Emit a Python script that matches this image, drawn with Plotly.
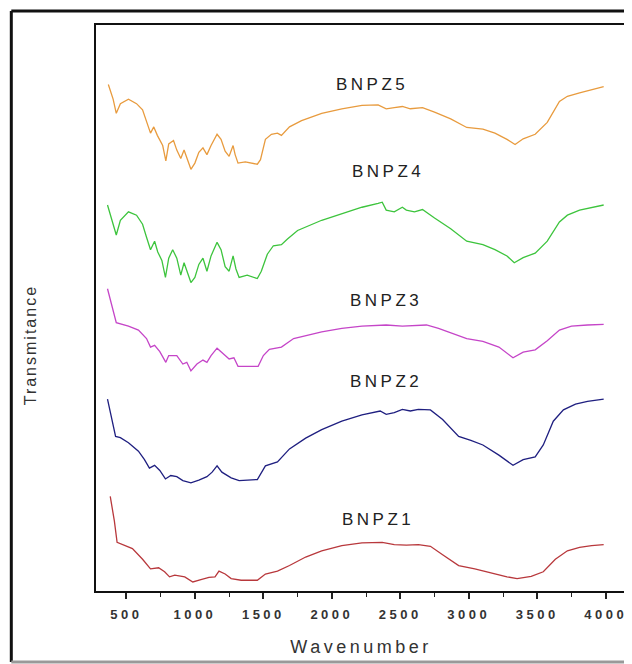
import plotly.graph_objects as go

# ---- data (wavenumber, transmittance in arbitrary offset units) ----
bnpz5_x = [368, 403, 426, 456, 515, 574, 618, 647, 676, 700, 726, 765, 788, 809, 844, 868, 897, 921, 941, 971,
           1000, 1029, 1059, 1088, 1118, 1162, 1191, 1221, 1250, 1279, 1294, 1315, 1368, 1456, 1479, 1515, 1559,
           1603, 1632, 1691, 1779, 1926, 2073, 2220, 2338, 2397, 2456, 2515, 2573, 2662, 2750, 2868, 2985, 3103,
           3191, 3279, 3338, 3397, 3485, 3573, 3662, 3720, 3809, 3897, 3985]
bnpz5_y = [89.5, 86.9, 84.4, 86.1, 86.9, 86.1, 85.0, 82.8, 80.9, 82.0, 80.5, 78.7, 76.0, 79.0, 79.6, 77.9, 76.4,
           77.9, 76.4, 74.5, 75.6, 77.5, 78.3, 77.1, 78.7, 80.7, 79.8, 77.7, 76.8, 78.7, 77.1, 75.6, 75.8, 75.4,
           76.2, 79.8, 80.7, 80.9, 80.5, 82.0, 83.1, 84.4, 85.2, 85.8, 85.9, 85.2, 85.4, 85.6, 85.2, 85.4, 84.6,
           83.4, 81.9, 81.6, 80.9, 79.8, 78.9, 79.9, 80.7, 82.8, 86.5, 87.4, 88.0, 88.6, 89.1]

bnpz4_x = [362, 397, 426, 456, 515, 574, 618, 647, 676, 706, 729, 759, 785, 809, 838, 868, 897, 921, 941, 971,
           1000, 1029, 1059, 1088, 1118, 1162, 1191, 1221, 1250, 1279, 1300, 1323, 1382, 1456, 1485, 1529, 1573,
           1632, 1676, 1750, 1926, 2073, 2220, 2338, 2368, 2397, 2456, 2515, 2544, 2603, 2662, 2750, 2868, 2985,
           3103, 3191, 3279, 3332, 3397, 3485, 3573, 3662, 3720, 3809, 3897, 3985]
bnpz4_y = [68.2, 65.5, 62.9, 65.5, 67.0, 66.4, 64.8, 62.5, 60.3, 61.8, 59.9, 58.4, 55.4, 58.8, 60.3, 58.8, 55.8,
           58.0, 56.5, 54.5, 55.4, 57.7, 58.8, 56.5, 59.2, 61.6, 60.3, 57.3, 56.5, 59.2, 56.9, 55.4, 55.8, 55.2,
           56.5, 59.5, 61.0, 61.2, 62.2, 63.7, 65.5, 66.7, 67.8, 68.5, 68.7, 67.3, 67.0, 67.8, 67.3, 67.0, 67.4,
           65.9, 64.0, 61.8, 61.2, 60.3, 59.2, 58.0, 58.9, 59.7, 61.8, 65.2, 66.4, 67.3, 67.8, 68.2]

bnpz3_x = [362, 397, 426, 515, 588, 647, 676, 706, 744, 788, 809, 868, 912, 941, 971, 1015, 1059, 1088, 1118,
           1162, 1206, 1250, 1285, 1315, 1397, 1462, 1500, 1544, 1632, 1721, 1926, 2073, 2220, 2397, 2515, 2691,
           2779, 2897, 2985, 3103, 3220, 3323, 3397, 3485, 3573, 3662, 3750, 3867, 3985]
bnpz3_y = [53.4, 49.8, 47.4, 46.8, 46.1, 44.6, 43.1, 43.4, 42.3, 40.4, 41.6, 41.6, 40.1, 40.4, 38.9, 40.1, 40.8,
           40.4, 41.6, 42.9, 41.9, 41.0, 41.2, 39.7, 39.7, 39.7, 41.6, 42.7, 43.1, 44.6, 45.8, 46.4, 46.8, 47.0,
           46.8, 47.0, 46.4, 45.3, 44.6, 44.1, 43.1, 41.2, 42.2, 42.6, 44.2, 46.1, 46.8, 47.0, 47.1]

bnpz2_x = [362, 397, 421, 456, 515, 588, 632, 668, 706, 744, 785, 824, 868, 912, 971, 1029, 1088, 1126, 1162,
           1197, 1265, 1323, 1456, 1515, 1603, 1691, 1809, 1926, 2073, 2220, 2353, 2397, 2456, 2515, 2573, 2632,
           2720, 2809, 2926, 3015, 3103, 3220, 3323, 3397, 3485, 3544, 3617, 3691, 3779, 3867, 3985]
bnpz2_y = [33.9, 30.3, 27.3, 27.1, 26.2, 24.7, 23.2, 21.7, 22.2, 21.3, 19.8, 20.4, 20.2, 19.5, 19.1, 19.6, 20.2,
           21.0, 22.1, 21.0, 20.0, 19.5, 19.7, 22.1, 22.8, 25.1, 27.0, 28.5, 30.0, 31.1, 31.8, 31.2, 31.5, 32.1,
           31.8, 32.1, 32.0, 30.3, 27.3, 26.6, 25.8, 24.0, 22.2, 23.2, 23.7, 25.8, 30.0, 32.0, 33.0, 33.5, 33.9]

bnpz1_x = [382, 412, 432, 485, 544, 618, 676, 735, 779, 815, 853, 926, 985, 1044, 1103, 1147, 1176, 1221, 1265,
           1338, 1456, 1515, 1603, 1691, 1809, 1926, 2073, 2220, 2368, 2456, 2544, 2632, 2720, 2809, 2926, 3044,
           3162, 3279, 3353, 3456, 3544, 3632, 3720, 3809, 3897, 3985]
bnpz1_y = [16.7, 12.4, 8.6, 8.1, 7.5, 5.6, 3.9, 4.1, 3.4, 2.5, 2.8, 2.5, 1.6, 2.0, 2.4, 2.5, 3.5, 3.0, 2.2, 1.9,
           1.9, 3.0, 3.5, 4.5, 6.0, 7.1, 8.0, 8.5, 8.6, 8.2, 8.1, 8.2, 7.9, 6.4, 4.5, 3.9, 3.2, 2.5, 2.2, 2.6,
           3.4, 5.6, 7.1, 7.7, 8.0, 8.2]

series_names = ["BNPZ5", "BNPZ4", "BNPZ3", "BNPZ2", "BNPZ1"]
series_x = [bnpz5_x, bnpz4_x, bnpz3_x, bnpz2_x, bnpz1_x]
series_y = [bnpz5_y, bnpz4_y, bnpz3_y, bnpz2_y, bnpz1_y]
series_colors = ["#E89B3E", "#3DC43D", "#C545C8", "#1F1F80", "#B8383C"]

label_x = [2294, 2412, 2397, 2397, 2338]
label_y = [89.5, 74.2, 51.3, 37.1, 12.7]

tick_vals = [500, 1000, 1500, 2000, 2500, 3000, 3500, 4000]
tick_text = ["500", "1000", "1500", "2000", "2500", "3000", "3500", "4000"]

FONT = "Arial, Liberation Sans, sans-serif"

fig = go.Figure()
for name, xs, ys, col in zip(series_names, series_x, series_y, series_colors):
    fig.add_trace(go.Scatter(x=xs, y=ys, mode="lines", name=name,
                             line=dict(color=col, width=1.3), showlegend=False))

for name, lx, ly in zip(series_names, label_x, label_y):
    fig.add_annotation(x=lx, y=ly, xref="x", yref="y", showarrow=False,
                       text='<span style="letter-spacing:3.5px">' + name + '</span>',
                       font=dict(family=FONT, size=17, color="#222222"))

# y-axis title (placed below the plot centre, as in the original)
fig.add_annotation(x=-0.124, y=0.4346, xref="paper", yref="paper", showarrow=False, textangle=-90,
                   xanchor="center", yanchor="middle",
                   text='<span style="letter-spacing:2px">Transmitance</span>',
                   font=dict(family=FONT, size=16, color="#333"))

fig.update_xaxes(range=[278, 4148], tickvals=tick_vals,
                 ticktext=['<span style="letter-spacing:3.5px">' + t + '</span>' for t in tick_text],
                 ticks="outside", ticklen=6, tickwidth=1.5, tickcolor="#222", ticklabelstandoff=5,
                 minor=dict(ticks="outside", ticklen=4, tickwidth=1.2, dtick=250, tick0=250, tickcolor="#222"),
                 showline=True, linecolor="#111", linewidth=1.6, mirror=True,
                 showgrid=False, zeroline=False,
                 tickfont=dict(family=FONT, size=13, color="#333", weight="bold"),
                 title=dict(text='<span style="letter-spacing:3.5px">Wavenumber</span>',
                            font=dict(family=FONT, size=18, color="#333"), standoff=19))
fig.update_yaxes(range=[0, 100], showticklabels=False, ticks="",
                 showline=True, linecolor="#111", linewidth=1.6, mirror=True,
                 showgrid=False, zeroline=False)

# outer frame
fig.add_shape(type="line", xref="paper", yref="paper", x0=-0.1598, x1=1.03, y0=1.0247, y1=1.0247,
              line=dict(color="#111", width=3))
fig.add_shape(type="line", xref="paper", yref="paper", x0=-0.1598, x1=-0.1598, y0=1.0247, y1=-0.1254,
              line=dict(color="#111", width=3))
fig.add_shape(type="line", xref="paper", yref="paper", x0=-0.1598, x1=1.03, y0=-0.1254, y1=-0.1254,
              line=dict(color="#999", width=3))

fig.update_layout(width=624, height=656, margin=dict(l=88, r=4, t=17, b=73),
                  plot_bgcolor="white", paper_bgcolor="white")

fig.write_html("out.html")
